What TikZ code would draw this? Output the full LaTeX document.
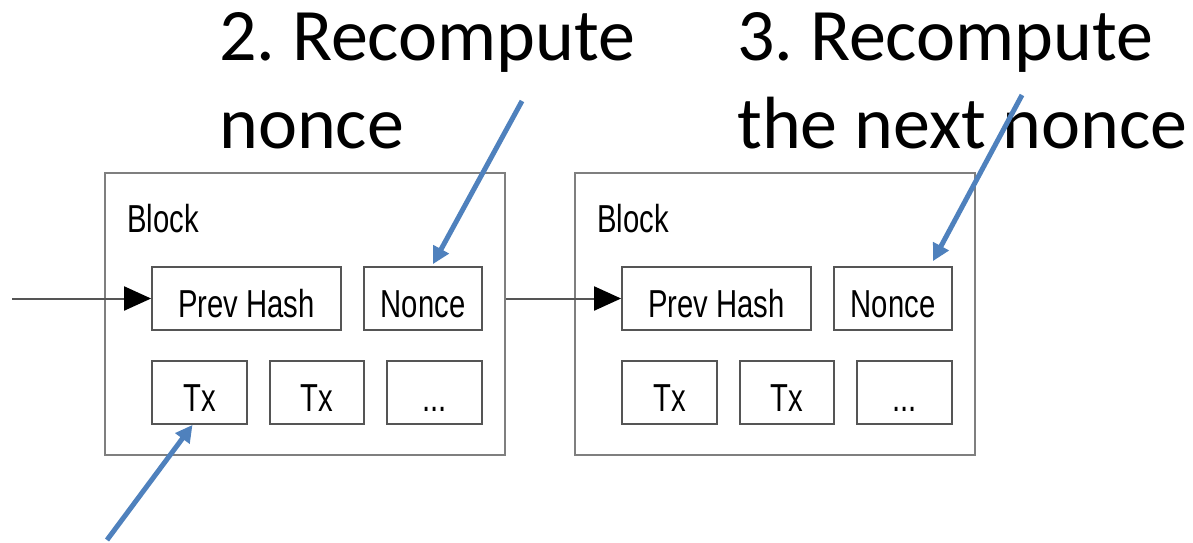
\documentclass[tikz,border=0pt]{standalone}
\usepackage{fontspec}
\setmainfont{Liberation Sans}
\newfontfamily\notefont{Carlito}
\newfontfamily\boxfont[FakeStretch=0.75]{Liberation Sans}
\usetikzlibrary{arrows.meta}
\definecolor{noteblue}{HTML}{4F81BD}
\definecolor{framegray}{HTML}{7F7F7F}
\definecolor{cellgray}{HTML}{555555}
\frenchspacing

\begin{document}
\begin{tikzpicture}[x=1pt,y=-1pt,
  blockbox/.style={draw=framegray, line width=1.8pt, minimum width=400pt,
    minimum height=282pt, inner sep=0pt},
  cell/.style={draw=cellgray, line width=1.8pt, minimum height=63pt, inner sep=0pt,
    font=\boxfont\fontsize{39}{39}\selectfont, text height=37pt, text depth=0pt},
  title/.style={font=\boxfont\fontsize{39}{39}\selectfont, anchor=base west, inner sep=0pt},
  link/.style={draw=cellgray, line width=2pt,
    -{Triangle[length=27pt,width=24pt,color=black]}},
  note/.style={font=\notefont\fontsize{74}{88}\selectfont, align=left,
    anchor=base west, inner sep=0pt},
  pointer/.style={draw=noteblue, line width=5pt, -{Triangle[length=17pt,width=17pt]}}
]
\useasboundingbox (0,0) rectangle (1193,542);

% first block
\node[blockbox] (blockA) at (305,314) {};
\node[title] (titleA) at (127,232) {Block};
\node[cell, minimum width=189pt] (prevA)  at (246.5,298.5) {Prev Hash};
\node[cell, minimum width=118pt] (nonceA) at (423,298.5) {Nonce};
\node[cell, minimum width=95pt]  (txA1)   at (199.5,392.5) {Tx};
\node[cell, minimum width=94pt]  (txA2)   at (317,392.5) {Tx};
\node[cell, minimum width=95pt]  (dotsA)  at (434.5,392.5) {...};

% second block
\node[blockbox] (blockB) at (775,314) {};
\node[title] (titleB) at (597,232) {Block};
\node[cell, minimum width=189pt] (prevB)  at (716.5,298.5) {Prev Hash};
\node[cell, minimum width=118pt] (nonceB) at (893,298.5) {Nonce};
\node[cell, minimum width=95pt]  (txB1)   at (669.5,392.5) {Tx};
\node[cell, minimum width=94pt]  (txB2)   at (787,392.5) {Tx};
\node[cell, minimum width=95pt]  (dotsB)  at (904.5,392.5) {...};

% chain links
\coordinate (chainIn) at (12,298.5);
\draw[link] (chainIn) -- (prevA.west);
\draw[link] (blockA.east |- prevB.west) -- (prevB.west);

% annotations (anchored on the baseline of the last line)
\node[note] (stepTwo) at (219,148) {2. Recompute\\nonce};
\node[note] (stepThree) at (737,148) {3. Recompute\\the next nonce};

\coordinate (tailTwo) at (522,101);
\coordinate (tailThree) at (1022,95);
\coordinate (tailOne) at (107,540);
\draw[pointer] (tailTwo) -- ([xshift=10pt,yshift=2pt]nonceA.north);
\draw[pointer] (tailThree) -- ([xshift=40pt,yshift=5pt]nonceB.north);
\draw[pointer] (tailOne) -- ([xshift=-7pt]txA1.south);
\end{tikzpicture}
\end{document}
